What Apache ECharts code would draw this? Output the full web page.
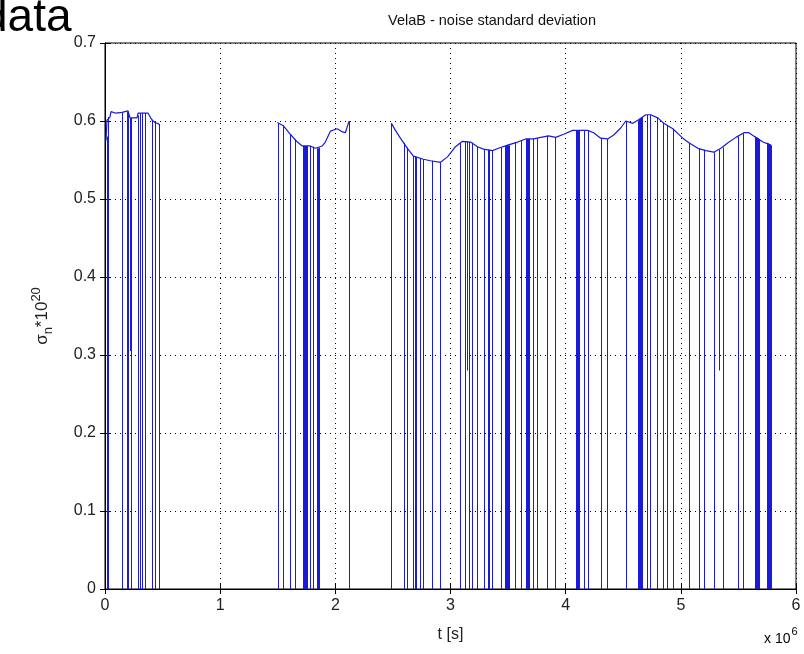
<!DOCTYPE html>
<html>
<head>
<meta charset="utf-8">
<script src="https://cdn.jsdelivr.net/npm/echarts@6/dist/echarts.min.js"></script>
<style>
html,body{margin:0;padding:0;background:#fff;}
#chart{width:804px;height:654px;}
</style>
</head>
<body>
<div id="chart"></div>
<script>
// ---- data (t in units of 1e6 s, sigma in units of 1e-20) ----
const xTicks = [0, 1, 2, 3, 4, 5, 6];
const yTicks = [0, 0.1, 0.2, 0.3, 0.4, 0.5, 0.6, 0.7];

const seg1T = [0.009, 0.017, 0.043, 0.052, 0.096, 0.148, 0.200, 0.217, 0.278, 0.287, 0.374, 0.409, 0.435, 0.470];
const seg1V = [0.575, 0.601, 0.605, 0.612, 0.610, 0.611, 0.613, 0.604, 0.604, 0.610, 0.610, 0.601, 0.598, 0.596];

const seg2T = [1.496, 1.548, 1.609, 1.670, 1.713, 1.783, 1.826, 1.887, 1.913, 1.957, 2.017, 2.061, 2.087, 2.113, 2.122];
const seg2V = [0.598, 0.594, 0.583, 0.573, 0.568, 0.568, 0.565, 0.568, 0.573, 0.587, 0.590, 0.586, 0.585, 0.597, 0.600];

const seg3T = [2.487, 2.522, 2.565, 2.626, 2.678, 2.765, 2.826, 2.913, 2.974, 3.043, 3.104, 3.174, 3.235, 3.287, 3.365,
  3.417, 3.496, 3.583, 3.652, 3.722, 3.783, 3.852, 3.913, 3.983, 4.061, 4.191, 4.243, 4.304, 4.365, 4.417, 4.478,
  4.522, 4.583, 4.626, 4.696, 4.739, 4.800, 4.852, 4.930, 5.017, 5.070, 5.148, 5.217, 5.287, 5.348, 5.409, 5.478,
  5.548, 5.591, 5.652, 5.713, 5.783];
const seg3V = [0.597, 0.588, 0.578, 0.565, 0.555, 0.551, 0.549, 0.547, 0.554, 0.567, 0.574, 0.573, 0.567, 0.564, 0.562,
  0.565, 0.569, 0.573, 0.577, 0.577, 0.579, 0.581, 0.579, 0.583, 0.588, 0.588, 0.585, 0.578, 0.577, 0.582, 0.591,
  0.600, 0.597, 0.601, 0.608, 0.608, 0.604, 0.597, 0.590, 0.578, 0.572, 0.565, 0.562, 0.560, 0.565, 0.572, 0.579,
  0.585, 0.585, 0.579, 0.573, 0.569];

// samples where sigma drops to zero (gaps in data)
const dropT = [0.017, 0.026, 0.145, 0.189, 0.198, 0.204, 0.230, 0.283, 0.300, 0.322, 0.343, 0.406, 0.435, 0.465,
  1.504, 1.548, 1.609, 1.648, 1.722, 1.730, 1.739, 1.748, 1.757, 1.783, 1.809, 1.843, 1.852, 1.861, 2.122,
  2.487, 2.594, 2.623, 2.678, 2.691, 2.704, 2.739, 2.763, 2.841, 2.913, 3.081, 3.130, 3.159, 3.189, 3.232,
  3.290, 3.324, 3.333, 3.363, 3.435, 3.470, 3.478, 3.487, 3.496, 3.507, 3.557, 3.609, 3.652, 3.660, 3.667, 3.674, 3.681,
  3.719, 3.754, 3.841, 3.904, 4.087, 4.095, 4.102, 4.109, 4.116, 4.159, 4.194, 4.304, 4.362, 4.522, 4.626, 4.637,
  4.648, 4.657, 4.667, 4.710, 4.733, 4.797, 4.841, 4.884, 4.928, 5.072, 5.159, 5.203, 5.290, 5.362, 5.493, 5.536,
  5.645, 5.652, 5.660, 5.667, 5.674, 5.681, 5.746, 5.754, 5.761, 5.768, 5.775, 5.783];
const dropTop = [0.580, 0.605, 0.611, 0.612, 0.612, 0.610, 0.604, 0.607, 0.610, 0.610, 0.610, 0.602, 0.598, 0.596,
  0.597, 0.594, 0.583, 0.577, 0.568, 0.568, 0.568, 0.568, 0.568, 0.568, 0.567, 0.565, 0.565, 0.566, 0.600,
  0.597, 0.572, 0.566, 0.555, 0.555, 0.554, 0.552, 0.551, 0.549, 0.547, 0.572, 0.574, 0.573, 0.572, 0.567,
  0.564, 0.563, 0.563, 0.562, 0.566, 0.568, 0.568, 0.569, 0.569, 0.569, 0.572, 0.575, 0.577, 0.577, 0.577, 0.577, 0.577,
  0.577, 0.578, 0.581, 0.579, 0.588, 0.588, 0.588, 0.588, 0.588, 0.588, 0.588, 0.578, 0.577, 0.600, 0.601, 0.602,
  0.603, 0.604, 0.605, 0.608, 0.608, 0.604, 0.598, 0.594, 0.590, 0.572, 0.565, 0.563, 0.560, 0.566, 0.580, 0.584,
  0.580, 0.579, 0.579, 0.578, 0.578, 0.577, 0.572, 0.571, 0.571, 0.570, 0.570, 0.569];

// samples where sigma dips only part way
const partT = [0.217, 3.145, 5.333];
const partTop = [0.604, 0.574, 0.563];
const partBottom = [0.305, 0.280, 0.280];

// ---- chart ----
const LINE = '#1a1ad8';
const FONT = '"Liberation Sans", Arial, sans-serif';
const chart = echarts.init(document.getElementById('chart'));
const zip = (a, b) => a.map((v, i) => [v, b[i]]);
const drops = dropT.map((t, i) => [t, dropTop[i], 0]).concat(partT.map((t, i) => [t, partTop[i], partBottom[i]]));

const axisFont = {fontFamily: FONT, fontSize: 16, color: '#222'};
const gridLine = {show: true, lineStyle: {color: '#000', type: [1, 4], width: 1}};

chart.setOption({
  backgroundColor: '#fff',
  animation: false,
  grid: {left: 105, right: 8, top: 43, bottom: 65, show: true, borderColor: '#000', borderWidth: 1, backgroundColor: '#fff'},
  title: {
    text: 'VelaB - noise standard deviation', left: 487, top: 8, textAlign: 'center',
    textStyle: {fontFamily: FONT, fontSize: 14.5, fontWeight: 'normal', color: '#111'}
  },
  xAxis: [{
    type: 'value', min: 0, max: 6, interval: 1, position: 'bottom',
    axisLine: {show: true, onZero: false, lineStyle: {color: '#000'}},
    axisTick: {show: true, inside: true, length: 5, lineStyle: {color: '#000'}},
    axisLabel: Object.assign({margin: 9, formatter: v => xTicks.includes(v) ? String(v) : ''}, axisFont),
    splitLine: gridLine,
    name: 't [s]', nameLocation: 'middle', nameGap: 38,
    nameTextStyle: Object.assign({}, axisFont, {fontSize: 16})
  }, {
    type: 'value', min: 0, max: 6, interval: 1, position: 'top',
    axisLine: {show: true, lineStyle: {color: '#000'}},
    axisTick: {show: true, inside: true, length: 5, lineStyle: {color: '#000'}},
    axisLabel: {show: false}, splitLine: {show: false}
  }],
  yAxis: [{
    type: 'value', min: 0, max: 0.7, interval: 0.1, position: 'left',
    axisLine: {show: true, onZero: false, lineStyle: {color: '#000'}},
    axisTick: {show: true, inside: true, length: 5, lineStyle: {color: '#000'}},
    axisLabel: Object.assign({margin: 9, formatter: v => {
      const y = yTicks.find(k => Math.abs(k - v) < 1e-9);
      return y === undefined ? '' : (y === 0 ? '0' : y.toFixed(1));
    }}, axisFont),
    splitLine: gridLine,
    name: '{s|σ}{sub|n}{s|*10}{sup|20}', nameLocation: 'middle', nameGap: 50, nameRotate: 90,
    nameTextStyle: {
      rich: {
        s: {fontFamily: FONT, fontSize: 17, color: '#222'},
        sub: {fontFamily: FONT, fontSize: 13, color: '#222', padding: [12, 0, 0, 0]},
        sup: {fontFamily: FONT, fontSize: 13, color: '#222', padding: [0, 0, 12, 0]}
      }
    }
  }, {
    type: 'value', min: 0, max: 0.7, interval: 0.1, position: 'right',
    axisLine: {show: true, lineStyle: {color: '#000'}},
    axisTick: {show: true, inside: true, length: 5, lineStyle: {color: '#000'}},
    axisLabel: {show: false}, splitLine: {show: false}
  }],
  graphic: [
    {type: 'text', left: -18, top: -5, style: {text: 'data', font: '46px ' + FONT, fill: '#000'}},
    {type: 'text', left: 764, top: 626, style: {
      text: '{a|x 10}{b|6}',
      rich: {
        a: {fontFamily: FONT, fontSize: 14, color: '#222', padding: [8, 0, 0, 0]},
        b: {fontFamily: FONT, fontSize: 11, color: '#222', padding: [0, 0, 8, 1]}
      }
    }}
  ],
  series: [
    {
      type: 'custom', xAxisIndex: 0, yAxisIndex: 0, data: drops, silent: true,
      itemStyle: {color: LINE},
      renderItem: (params, api) => {
        const p0 = api.coord([api.value(0), api.value(2)]);
        const p1 = api.coord([api.value(0), api.value(1)]);
        const x = Math.round(p0[0]);
        return {type: 'rect', shape: {x: x, y: p1[1], width: 1, height: p0[1] - p1[1]}, style: {fill: LINE, stroke: null}};
      }
    },
    {type: 'line', data: zip(seg1T, seg1V), showSymbol: false, lineStyle: {color: LINE, width: 1.2}, silent: true},
    {type: 'line', data: zip(seg2T, seg2V), showSymbol: false, lineStyle: {color: LINE, width: 1.2}, silent: true},
    {type: 'line', data: zip(seg3T, seg3V), showSymbol: false, lineStyle: {color: LINE, width: 1.2}, silent: true}
  ]
});
</script>
</body>
</html>
